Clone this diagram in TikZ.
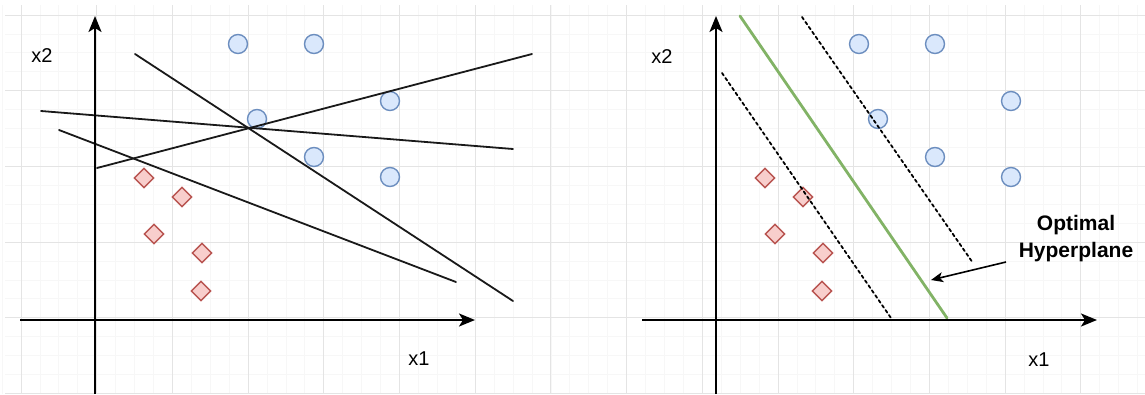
\documentclass[tikz,border=0pt]{standalone}
\usepackage{fontspec}
\setmainfont{Liberation Sans}
\usetikzlibrary{arrows.meta,shapes.geometric}
\usepackage{tkz-euclide}
\definecolor{GridClr}{HTML}{E4E4E4}
\definecolor{MinorClr}{HTML}{F7F7F7}
\definecolor{BlueFill}{HTML}{DAE8FC}
\definecolor{BlueLine}{HTML}{6C8EBF}
\definecolor{RedFill}{HTML}{F8CECC}
\definecolor{RedLine}{HTML}{B85450}
\definecolor{PlaneClr}{HTML}{82B366}

\tikzset{
  pos dot/.style={circle,draw=BlueLine,fill=BlueFill,line width=1.4pt,
    minimum size=19pt,inner sep=0pt},
  neg dot/.style={diamond,draw=RedLine,fill=RedFill,line width=1.4pt,
    minimum size=20pt,inner sep=0pt},
  axis/.style={line width=2.2pt,-{Stealth[length=16pt,width=13pt,inset=4pt]}},
  axis label/.style={font=\fontsize{20}{24}\selectfont},
  margin line/.style={line width=1.8pt,dash pattern=on 3pt off 3pt},
}

\begin{document}
\begin{tikzpicture}[x=1pt,y=-1pt]
\useasboundingbox (0,0) rectangle (1145,394);

% grid
\foreach \i in {-1,...,59}
  \draw[MinorClr,line width=0.8pt] (21+18.925*\i,5) -- (21+18.925*\i,394);
\foreach \i in {0,...,20}
  \draw[MinorClr,line width=0.8pt] (5,15+18.925*\i) -- (1145,15+18.925*\i);
\foreach \i in {0,...,14}
  \draw[GridClr,line width=1pt] (21+75.7*\i,5) -- (21+75.7*\i,394);
\foreach \i in {0,...,5}
  \draw[GridClr,line width=1pt] (5,15+75.7*\i) -- (1145,15+75.7*\i);

% both panels: same points, right one shifted
\foreach \p/\dx in {l/0,r/621}{
  \foreach \cx/\cy/\k in {238/44/1,314/44/2,390/101/3,257/119/4,314/157/5,390/177/6}
    \node[pos dot] (\p c\k) at (\cx+\dx,\cy) {};
  \foreach \qx/\qy/\k in {144/178/1,182/197/2,154/234/3,202/253/4,201/291/5}
    \node[neg dot] (\p d\k) at (\qx+\dx,\qy) {};
}

% left panel: candidate separators
\tkzDefPoints{135/54/a1,513/301/b1,97/168/a2,532/54/b2,41/111/a3,513/149/b3,59/130/a4,456/282/b4}
\tkzDrawSegments[line width=1.8pt,color=black!90](a1,b1 a2,b2 a3,b3 a4,b4)

% right panel: margins and hyperplane
\tkzDefPoints{722/73/m1,891/318/n1,802/17/m2,973/263/n2,740/16/h1,947/318/h2}
\tkzDrawSegments[margin line](m1,n1 m2,n2)
\tkzDrawSegment[line width=2.8pt,color=PlaneClr](h1,h2)

% axes
\tkzDefPoints{95/394/ly0,95/16/ly1,20/320/lx0,475/320/lx1,716/394/ry0,716/16/ry1,642/320/rx0,1097/320/rx1}
\draw[axis] (ly0) -- (ly1);
\draw[axis] (lx0) -- (lx1);
\draw[axis] (ry0) -- (ry1);
\draw[axis] (rx0) -- (rx1);

\node[axis label] (lx2) at (42,56) {x2};
\node[axis label] (lx1t) at (419,359) {x1};
\node[axis label] (rx2) at (662,57) {x2};
\node[axis label] (rx1t) at (1039,360) {x1};

\node[align=center,font=\fontsize{21}{27}\selectfont\bfseries] (opt) at (1076,239) {Optimal\\Hyperplane};
\coordinate (arr) at (1006,262);
\coordinate (tip) at (931,280);
\draw[line width=1.6pt,-{Stealth[length=12pt,width=10pt,inset=3pt]}] (arr) -- (tip);

\end{tikzpicture}
\end{document}
